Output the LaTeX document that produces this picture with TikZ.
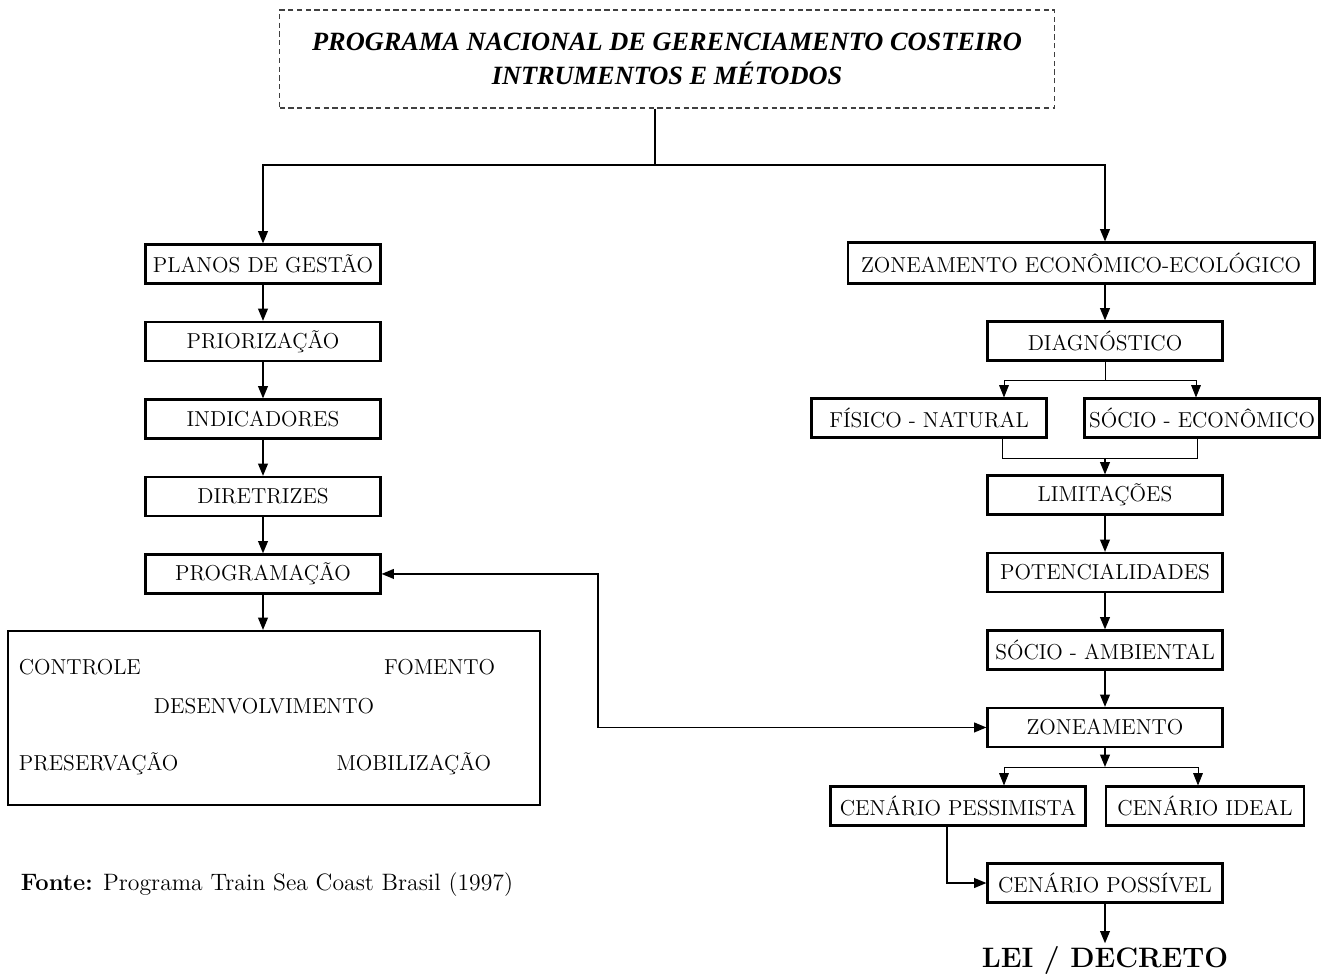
\documentclass[tikz,border=0pt]{standalone}
\usepackage{fontspec}
\usepackage{tikz}
\usetikzlibrary{arrows.meta,positioning}
\newfontfamily\titlefont{Liberation Serif}

\begin{document}
\begin{tikzpicture}[x=0.02cm,y=-0.02cm,
        box/.style = {draw, line width=1.2pt, minimum width=4.7cm, minimum height=0.78cm, inner sep=1pt, font=\fontsize{12.3}{14}\selectfont},
        word/.style = {inner sep=0pt, font=\fontsize{12.3}{14}\selectfont},
        thinline/.style = {line width=0.5pt},
        >={Triangle[length=7pt,width=5.5pt]}, line width=1pt,
        node distance={15.5mm}]
        \useasboundingbox (0,0) rectangle (1332,978);
        % title
        \node[draw, densely dashed, line width=0.6pt, black!75, text=black, minimum width=15.5cm, minimum height=1.96cm, align=center,
              font=\titlefont\bfseries\itshape\fontsize{15}{19.5}\selectfont] (title) at (667,59)
              {PROGRAMA NACIONAL DE GERENCIAMENTO COSTEIRO\\INTRUMENTOS E MÉTODOS};
        \coordinate (split) at (655,165);
        % left column
        \node[box] (plan) at (263,264) {PLANOS DE GESTÃO};
        \node[box] (prio) [below of=plan] {PRIORIZAÇÃO};
        \node[box] (ind) [below of=prio] {INDICADORES};
        \node[box] (dir) [below of=ind] {DIRETRIZES};
        \node[box] (prog) [below of=dir] {PROGRAMAÇÃO};
        \node[draw, line width=1.2pt, minimum width=10.64cm, minimum height=3.48cm] (acoes) at (274,718) {};
        \node[word, anchor=west] (ctrl) at (18,667) {CONTROLE};
        \node[word, anchor=east] (fom) at (496,667) {FOMENTO};
        \node[word] (desenv) at (264,706) {DESENVOLVIMENTO};
        \node[word, anchor=west] (pres) at (18,764) {PRESERVAÇÃO};
        \node[word, anchor=east] (mob) at (492,764) {MOBILIZAÇÃO};
        % right column
        \node[box, minimum width=9.34cm, minimum height=0.82cm] (zee) at (1081,263) {ZONEAMENTO ECONÔMICO-ECOLÓGICO};
        \node[box] (diag) at (1105,341) {DIAGNÓSTICO};
        \node[box] (fis) at (929,418) {FÍSICO - NATURAL};
        \node[box] (soc) at (1202,418) {SÓCIO - ECONÔMICO};
        \node[box] (lim) at (1105,495) {LIMITAÇÕES};
        \node[box] (pot) [below of=lim] {POTENCIALIDADES};
        \node[box] (socamb) [below of=pot] {SÓCIO - AMBIENTAL};
        \node[box] (zone) [below of=socamb] {ZONEAMENTO};
        \node[box, minimum width=5.1cm] (pess) at (958,806) {CENÁRIO PESSIMISTA};
        \node[box, minimum width=3.96cm] (ideal) at (1205,806) {CENÁRIO IDEAL};
        \node[box] (poss) at (1105,883) {CENÁRIO POSSÍVEL};
        \node[font=\bfseries\fontsize{16}{18}\selectfont, inner sep=1pt] (lei) at (1105,960) {LEI / DECRETO};
        \node[anchor=west, inner sep=0pt, font=\fontsize{13.5}{15}\selectfont] (fonte) at (20,885) {\textbf{Fonte:} Programa Train Sea Coast Brasil (1997)};
        % connectors
        \draw (title.south -| split) -- (split);
        \draw[->] (split) -| (plan.north);
        \draw[->] (split) -| (zee.north -| diag.north);
        \draw[->] (plan) -- (prio);
        \draw[->] (prio) -- (ind);
        \draw[->] (ind) -- (dir);
        \draw[->] (dir) -- (prog);
        \draw[->] (prog.south) -- (prog.south |- acoes.north);
        \draw[->] (zee.south -| diag.north) -- (diag.north);
        \coordinate (dsplit) at (1105,380);
        \draw[thinline] (diag.south) -- (dsplit);
        \draw[thinline,->] (dsplit) -| ([xshift=1.5cm]fis.north);
        \draw[thinline,->] (dsplit) -| ([xshift=-0.12cm]soc.north);
        \coordinate (lsplit) at (1105,458);
        \draw[thinline] ([xshift=1.46cm]fis.south) |- (lsplit) -| ([xshift=-0.1cm]soc.south);
        \draw[->] (lsplit) -- (lim.north);
        \draw[->] (lim) -- (pot);
        \draw[->] (pot) -- (socamb);
        \draw[->] (socamb) -- (zone);
        \coordinate (zsplit) at (1105,767);
        \draw[->] (zone.south) -- (zsplit);
        \draw[thinline,->] (zsplit) -| ([xshift=0.92cm]pess.north);
        \draw[thinline,->] (zsplit) -| ([xshift=-0.14cm]ideal.north);
        \draw[->] ([xshift=-0.22cm]pess.south) |- (poss.west);
        \draw[->] (poss.south) -- (lei.north);
        \coordinate (link) at (598,650);
        \draw[<->] (prog.east) -| (link) |- (zone.west);
\end{tikzpicture}
\end{document}
